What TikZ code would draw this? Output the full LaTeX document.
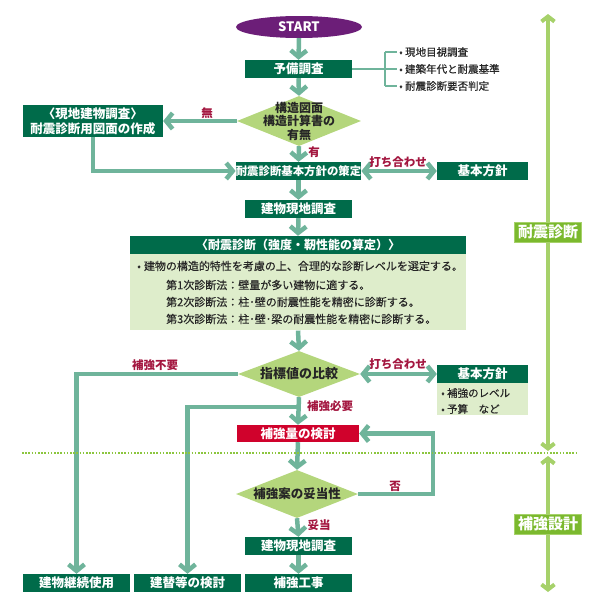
\documentclass[tikz,border=0pt]{standalone}
\usepackage{fontspec}
\setmainfont{Noto Sans CJK JP}
\newfontfamily\medfont{Noto Sans CJK JP}[FakeBold=0.4]
\usetikzlibrary{arrows.meta,shapes.geometric}
\definecolor{dk}{HTML}{006B4A}
\definecolor{ar}{HTML}{6FB49B}
\definecolor{dia}{HTML}{B4D67C}
\definecolor{lt}{HTML}{DEEDCB}
\definecolor{rd}{HTML}{A3163F}
\definecolor{rbox}{HTML}{D0022C}
\definecolor{pur}{HTML}{6C1E78}
\definecolor{lg}{HTML}{A6D16A}
\definecolor{lgbox}{HTML}{7BB92E}
\definecolor{dotc}{HTML}{8CC63F}
\begin{document}
\begin{tikzpicture}[x=1pt,y=-1pt,
 gbox/.style={fill=dk,text=white,inner sep=0pt,minimum height=18pt,minimum width=107pt,font=\bfseries\fontsize{12.5}{14}\selectfont},
 dshape/.style={diamond,fill=dia,inner sep=0pt,minimum width=122pt,minimum height=48pt},
 dtext/.style={text=black!85,font=\bfseries\fontsize{12.5}{13}\selectfont,align=center,inner sep=0pt},
 flow/.style={draw=ar,line width=4.5pt,-{Straight Barb[length=6.5pt,width=16pt]}},
 both/.style={draw=ar,line width=4.5pt,{Straight Barb[length=6.5pt,width=16pt]}-{Straight Barb[length=6.5pt,width=16pt]}},
 thin/.style={draw=ar,line width=1.2pt},
 lbl/.style={text=rd,font=\bfseries\fontsize{11.5}{12}\selectfont,inner sep=0pt},
 small/.style={text=black!85,font=\medfont\fontsize{10.5}{12}\selectfont,inner sep=0pt,anchor=west},
 body/.style={text=black!85,font=\medfont\fontsize{11}{12}\selectfont,inner sep=0pt,anchor=west},
 gboth/.style={draw=lg,line width=4pt,{Straight Barb[length=5pt,width=13pt]}-{Straight Barb[length=5pt,width=13pt]}},
 gtag/.style={fill=lgbox,draw=lg,line width=0.8pt,text=white,font=\bfseries\fontsize{15}{16}\selectfont,minimum width=67pt,minimum height=20pt,inner sep=0pt}
]
\useasboundingbox (0,0) rectangle (600,600);

% START
\node[ellipse,fill=pur,text=white,minimum width=126pt,minimum height=22pt,inner sep=0pt,font=\bfseries\fontsize{13}{14}\selectfont] (start) at (299,27) {START};
\node[gbox] (yobi) at (298.5,69) {予備調査};

% bracket
\coordinate (b0) at (385,69);
\coordinate (bt) at (385,52);
\coordinate (bb) at (385,86);
\node[small] (r1) at (399,52) {• 現地目視調査};
\node[small] (r2) at (399,69) {• 建築年代と耐震基準};
\node[small] (r3) at (399,86) {• 耐震診断要否判定};
\draw[thin] (yobi.east) -- (b0);
\draw[thin] (bt) -- (bb);
\draw[thin] (bt) -- ([xshift=-2pt]r1.west);
\draw[thin] (b0) -- ([xshift=-2pt]r2.west);
\draw[thin] (bb) -- ([xshift=-2pt]r3.west);

% diamond 1
\node[dshape,minimum width=124pt,minimum height=50pt] (d1) at (299,121) {};
\node[dtext,font=\bfseries\fontsize{12}{13.5}\selectfont] (d1t) at (299,121) {構造図面\\構造計算書の\\有無};

\node[gbox,minimum width=140pt,minimum height=32pt,align=center,font=\bfseries\fontsize{12.5}{15}\selectfont] (left) at (93,121) {〈現地建物調査〉\\耐震診断用図面の作成};

\node[gbox,minimum width=123pt,font=\bfseries\fontsize{11.4}{13}\selectfont] (k1) at (298.5,171) {耐震診断基本方針の策定};
\node[gbox,minimum width=91pt] (kr) at (482.5,171) {基本方針};
\node[gbox] (g1) at (298.5,209) {建物現地調査};

% big box
\node[gbox,minimum width=336pt,minimum height=18pt,font=\bfseries\fontsize{12}{14}\selectfont] (bh) at (298,245) {〈耐震診断（強度・靭性能の算定）〉};
\node[fill=lt,minimum width=336pt,minimum height=76pt,inner sep=0pt,anchor=north] (bbody) at (bh.south) {};
\node[body] (l1) at (137,266) {•\hspace{3pt}建物の構造的特性を考慮の上、合理的な診断レベルを選定する。};
\node[body] (l2) at (166,285) {第1次診断法：壁量が多い建物に適する。};
\node[body] (l3) at (166,302) {第2次診断法：柱･壁の耐震性能を精密に診断する。};
\node[body] (l4) at (166,319) {第3次診断法：柱･壁･梁の耐震性能を精密に診断する。};

% diamond 2
\node[dshape,minimum width=122pt,minimum height=46pt] (d2) at (299,374) {};
\node[dtext,font=\bfseries\fontsize{13}{14}\selectfont] (d2t) at (299,374) {指標値の比較};

\node[gbox,minimum width=91pt] (kr2) at (482.5,374) {基本方針};
\node[fill=lt,minimum width=91pt,minimum height=32pt,inner sep=0pt,anchor=north] (kr2b) at (kr2.south) {};
\node[small] (kb1) at (441,393) {• 補強のレベル};
\node[small] (kb2) at (441,409) {• 予算　など};

\node[gbox,fill=rbox,minimum width=122pt,minimum height=17pt] (red) at (298,433.5) {補強量の検討};

% diamond 3
\node[dshape,minimum width=122pt,minimum height=48pt] (d3) at (297,494) {};
\node[dtext] (d3t) at (297,494) {補強案の妥当性};

\node[gbox] (g2) at (298.5,546) {建物現地調査};
\node[gbox] (hk) at (298.5,583) {補強工事};
\node[gbox] (kz) at (76.5,583) {建物継続使用};
\node[gbox] (tk) at (187.5,583) {建替等の検討};

% connectors
\draw[flow] (start.south) -- (yobi.north);
\draw[flow] (yobi.south) -- (d1.north);
\draw[flow] (d1.west) -- (left.east);
\draw[flow] (d1.south) -- (k1.north);
\draw[flow] (left.south) |- (k1.west);
\draw[both] (k1.east) -- (kr.west);
\draw[flow] (k1.south) -- (g1.north);
\draw[flow] (g1.south) -- (bh.north);
\draw[flow] (bbody.south) -- (d2.north);
\draw[flow] (d2.west) -| (kz.north);
\draw[both] (d2.east) -- (kr2.west);
\draw[flow] (d2.south) -- (red.north);
\coordinate (br) at (298,407);
\draw[flow] (br) -| (tk.north);
\draw[flow] (red.south) -- (d3.north);
\coordinate (ng) at (433,494);
\draw[flow] (d3.east) -- (ng) |- (red.east);
\draw[flow] (d3.south) -- (g2.north);
\draw[flow] (g2.south) -- (hk.north);

% labels
\node[lbl] (t1) at (207,113) {無};
\node[lbl] (t2) at (314,152) {有};
\node[lbl] (t3) at (398,162) {打ち合わせ};
\node[lbl] (t4) at (155,365) {補強不要};
\node[lbl] (t5) at (398,364) {打ち合わせ};
\node[lbl] (t6) at (330,406) {補強必要};
\node[lbl] (t7) at (395,486) {否};
\node[lbl] (t8) at (319,525) {妥当};

% dotted separator
\coordinate (dl) at (22,453);
\coordinate (dr) at (577,453);
\draw[dotc,line width=1.6pt,dash pattern=on 1.6pt off 1.6pt] (dl) -- (dr);

% right side
\coordinate (ra) at (548,14);
\coordinate (rb) at (548,451);
\coordinate (rc) at (548,456);
\coordinate (rdd) at (548,592);
\draw[gboth] (ra) -- (rb);
\draw[gboth] (rc) -- (rdd);
\node[gtag] (tag1) at (548,232) {耐震診断};
\node[gtag] (tag2) at (548,524) {補強設計};
\end{tikzpicture}
\end{document}
